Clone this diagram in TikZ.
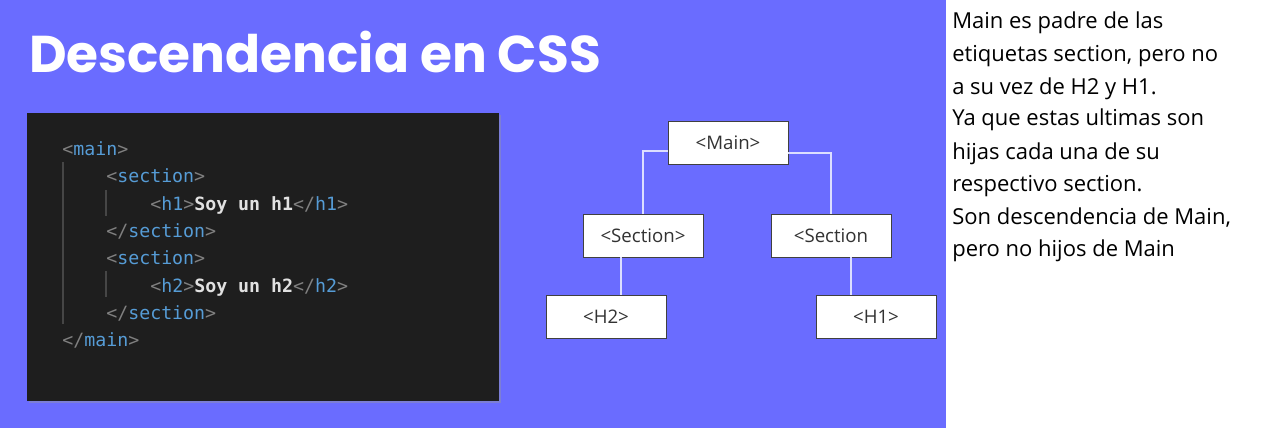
\documentclass[tikz,border=0pt]{standalone}
\usepackage{fontspec}
\newfontfamily\titlefont{Poppins}
\newfontfamily\codefont{DejaVu Sans Mono}
\newfontfamily\boxfont{Open Sans}
\newfontfamily\notefont{Open Sans}
\definecolor{slide}{RGB}{106,108,255}
\definecolor{codebg}{RGB}{30,30,30}
\definecolor{tagc}{RGB}{86,156,214}
\definecolor{brk}{RGB}{128,128,128}
\definecolor{txtc}{RGB}{225,225,225}
\definecolor{guide}{RGB}{70,70,70}
\definecolor{conn}{RGB}{220,222,255}
\definecolor{boxtxt}{RGB}{50,50,50}
\newcommand{\bk}[1]{\textcolor{brk}{#1}}
\newcommand{\tg}[1]{\textcolor{tagc}{#1}}
\newcommand{\tx}[1]{\textcolor{txtc}{\bfseries #1}}
\tikzset{
  codeline/.style={anchor=base west, inner sep=0pt, font=\codefont\fontsize{13.7}{16}\selectfont},
  treebox/.style={draw=black!75, line width=0.7pt, fill=white, minimum width=90pt, minimum height=32.25pt, inner sep=0pt, font=\boxfont\fontsize{14}{16}\selectfont, text=boxtxt},
  link/.style={draw=conn, line width=0.8pt},
  noteline/.style={anchor=base west, inner sep=0pt, font=\notefont\fontsize{16.5}{19}\selectfont, text=black}
}
\begin{document}
\begin{tikzpicture}[x=0.75pt, y=-0.75pt]
\useasboundingbox (0,0) rectangle (1282,428);
\fill[white] (0,0) rectangle (1282,428);
\fill[slide] (0,0) rectangle (946,428);
% title
\node[anchor=base west, inner sep=0pt, text=white, font=\titlefont\bfseries\fontsize{38.8}{44}\selectfont] (title) at (29,73) {Descendencia en CSS};
% code panel
\fill[black!40, opacity=0.4] (29,115) rectangle (501,403);
\fill[codebg] (27,113) rectangle (499,401);
\draw[guide, line width=0.8pt] (63,162) -- (63,324);
\draw[guide, line width=0.8pt] (106,190) -- (106,216);
\draw[guide, line width=0.8pt] (106,271) -- (106,297);
\node[codeline] (c1) at (62,155) {\bk{<}\tg{main}\bk{>}};
\node[codeline] (c2) at (106,182.5) {\bk{<}\tg{section}\bk{>}};
\node[codeline] (c3) at (150,210) {\bk{<}\tg{h1}\bk{>}\tx{Soy un h1}\bk{</}\tg{h1}\bk{>}};
\node[codeline] (c4) at (106,237) {\bk{</}\tg{section}\bk{>}};
\node[codeline] (c5) at (106,264.5) {\bk{<}\tg{section}\bk{>}};
\node[codeline] (c6) at (150,292) {\bk{<}\tg{h2}\bk{>}\tx{Soy un h2}\bk{</}\tg{h2}\bk{>}};
\node[codeline] (c7) at (106,319) {\bk{</}\tg{section}\bk{>}};
\node[codeline] (c8) at (62,346.5) {\bk{</}\tg{main}\bk{>}};
% tree
\coordinate (mL) at (668,151);
\coordinate (mR) at (788,153);
\coordinate (lx) at (621,0);
\coordinate (rx) at (851,0);
\node[treebox] (main) at (728,142.5) {<Main>};
\node[treebox] (secL) at (643,235.5) {<Section>};
\node[treebox] (secR) at (831,235.5) {<Section};
\node[treebox] (h2) at (606,316.5) {<H2>};
\node[treebox] (h1) at (876,316.5) {<H1>};
\draw[link] (main.west |- mL) -| (secL.north);
\draw[link] (main.east |- mR) -| (secR.north);
\draw[link] (secL.south -| lx) -- (h2.north -| lx);
\draw[link] (secR.south -| rx) -- (h1.north -| rx);
% note text
\node[noteline] (n1) at (952,29) {Main es padre de las};
\node[noteline] (n2) at (952,62) {etiquetas section, pero no};
\node[noteline] (n3) at (952,94) {a su vez de H2 y H1.};
\node[noteline] (n4) at (952,126) {Ya que estas ultimas son};
\node[noteline] (n5) at (952,159) {hijas cada una de su};
\node[noteline] (n6) at (952,191) {respectivo section.};
\node[noteline] (n7) at (952,224) {Son descendencia de Main,};
\node[noteline] (n8) at (952,256) {pero no hijos de Main};
\end{tikzpicture}
\end{document}
